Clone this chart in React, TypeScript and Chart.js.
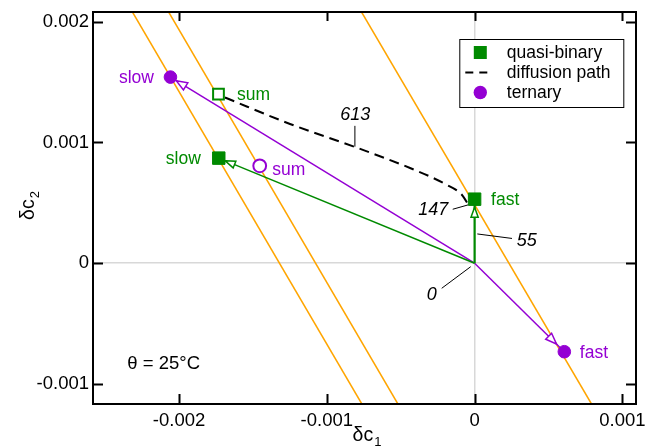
import React, { useEffect, useRef } from 'react';
import { Chart, registerables } from 'chart.js';

Chart.register(...registerables);

// ---------- data ----------
const xRange = [-0.002582, 0.001092];
const yRange = [-0.001166, 0.00208];
const xTicks = [-0.002, -0.001, 0, 0.001];
const xTickLabels = ['-0.002', '-0.001', '0', '0.001'];
const yTicks = [-0.001, 0, 0.001, 0.002];
const yTickLabels = ['-0.001', '0', '0.001', '0.002'];

// orange lines (endpoints at top and bottom of the frame)
const orangeTopX = [-0.002315, -0.00207, -0.000765];
const orangeTopY = [0.00208, 0.00208, 0.00208];
const orangeBotX = [-0.000763, -0.000519, 0.000791];
const orangeBotY = [-0.001166, -0.001166, -0.001166];

// origin of the arrows
const originX = 0;
const originY = 0;

// quasi-binary (green): slow, fast, and their sum
const qbNames = ['slow', 'fast'];
const qbX = [-0.001731, 0.0];
const qbY = [0.00087, 0.00053];
const qbSumX = [-0.001733];
const qbSumY = [0.0014];

// ternary (purple): slow, fast, and their sum
const tNames = ['slow', 'fast'];
const tX = [-0.002058, 0.000607];
const tY = [0.001541, -0.000733];
const tSumX = [-0.001454];
const tSumY = [0.000806];
const sumName = 'sum';

// diffusion path (dashed), from the sum point to the fast point
const pathX = [-0.001689, -0.001249, -0.000809, -0.000437, -0.0002, -0.0000853, -0.0000379];
const pathY = [0.001372, 0.001153, 0.000962, 0.000788, 0.000656, 0.000565, 0.000474];

// time labels along the path
const pathTimes = ['0', '55', '147', '613'];
const pathTimeX = [0, 0, -0.0000433, -0.00081];
const pathTimeY = [0, 0.000243, 0.000483, 0.000965];

const legendLabels = ['quasi-binary', 'diffusion path', 'ternary'];
const tempLabel = 'θ = 25°C';

// ---------- styles ----------
const GREEN = '#008a00';
const PURPLE = '#9400d3';
const ORANGE = '#ffa500';
const FONT = '"Liberation Sans", Arial, Helvetica, sans-serif';

const fmt = (v: number, vals: number[], labels: string[]) => {
  const i = vals.findIndex((t) => Math.abs(t - v) < 1e-9);
  return i >= 0 ? labels[i] : '';
};

const pts = (xs: number[], ys: number[]) => xs.map((x, i) => ({ x, y: ys[i] }));

export default function App() {
  const ref = useRef<HTMLCanvasElement>(null);

  useEffect(() => {
    const canvas = ref.current!;

    const datasets: any[] = [];
    // markers (top)
    datasets.push({
      data: pts(qbX, qbY), showLine: false, pointStyle: 'rect', pointRadius: 8.8,
      backgroundColor: GREEN, borderColor: GREEN, borderWidth: 1, order: 0,
    });
    datasets.push({
      data: pts(qbSumX, qbSumY), showLine: false, pointStyle: 'rect', pointRadius: 7.6,
      backgroundColor: '#fff', borderColor: GREEN, borderWidth: 2, order: 0,
    });
    datasets.push({
      data: pts(tX, tY), showLine: false, pointStyle: 'circle', pointRadius: 6.3,
      backgroundColor: PURPLE, borderColor: PURPLE, borderWidth: 1, order: 0,
    });
    datasets.push({
      data: pts(tSumX, tSumY), showLine: false, pointStyle: 'circle', pointRadius: 6.4,
      backgroundColor: '#fff', borderColor: PURPLE, borderWidth: 2, order: 0,
    });
    // dashed diffusion path
    datasets.push({
      data: pts(pathX, pathY), showLine: true, pointRadius: 0, borderColor: '#000',
      borderWidth: 2, borderDash: [10, 6], cubicInterpolationMode: 'monotone', fill: false, order: 1,
    });
    // arrow shafts
    qbX.forEach((x, i) => {
      datasets.push({
        data: [{ x: originX, y: originY }, { x, y: qbY[i] }], showLine: true, pointRadius: 0,
        borderColor: GREEN, borderWidth: i === 1 ? 2.2 : 1.5, order: 2,
      });
    });
    tX.forEach((x, i) => {
      datasets.push({
        data: [{ x: originX, y: originY }, { x, y: tY[i] }], showLine: true, pointRadius: 0,
        borderColor: PURPLE, borderWidth: 1.5, order: 2,
      });
    });
    // orange lines
    orangeTopX.forEach((x, i) => {
      datasets.push({
        data: [{ x, y: orangeTopY[i] }, { x: orangeBotX[i], y: orangeBotY[i] }], showLine: true,
        pointRadius: 0, borderColor: ORANGE, borderWidth: 1.5, order: 3,
      });
    });

    const arrowGaps = { qb: [7, 8], t: [6.8, 11] };

    const decor = {
      id: 'decor',
      afterDatasetsDraw(chart: any) {
        const { ctx, scales } = chart;
        const xs = scales.x, ys = scales.y;
        const ox = xs.getPixelForValue(originX), oy = ys.getPixelForValue(originY);
        const head = (ex: number, ey: number, gap: number, color: string, L: number, W: number) => {
          const dx = ex - ox, dy = ey - oy;
          const len = Math.hypot(dx, dy);
          const ux = dx / len, uy = dy / len;
          const tx = ex - ux * gap, ty = ey - uy * gap;
          const bx = tx - ux * L, by = ty - uy * L;
          ctx.save();
          ctx.beginPath();
          ctx.moveTo(tx, ty);
          ctx.lineTo(bx - uy * W, by + ux * W);
          ctx.lineTo(bx + uy * W, by - ux * W);
          ctx.closePath();
          ctx.fillStyle = '#fff';
          ctx.fill();
          ctx.lineWidth = 1.5;
          ctx.strokeStyle = color;
          ctx.lineJoin = 'miter';
          ctx.stroke();
          ctx.restore();
        };
        qbX.forEach((x, i) => head(xs.getPixelForValue(x), ys.getPixelForValue(qbY[i]), arrowGaps.qb[i], GREEN, 10, 3.6));
        tX.forEach((x, i) => head(xs.getPixelForValue(x), ys.getPixelForValue(tY[i]), arrowGaps.t[i], PURPLE, 11, 4.2));
      },
      afterDraw(chart: any) {
        const { ctx, chartArea: a, scales } = chart;
        const xs = scales.x, ys = scales.y;
        ctx.save();
        // frame
        ctx.strokeStyle = '#000';
        ctx.lineWidth = 2;
        ctx.strokeRect(a.left, a.top, a.right - a.left, a.bottom - a.top);
        // inward ticks on all sides
        ctx.beginPath();
        xTicks.forEach((v) => {
          const p = Math.round(xs.getPixelForValue(v)) + 0.5;
          ctx.moveTo(p, a.bottom); ctx.lineTo(p, a.bottom - 10);
          ctx.moveTo(p, a.top); ctx.lineTo(p, a.top + 9);
        });
        yTicks.forEach((v) => {
          const p = Math.round(ys.getPixelForValue(v)) + 0.5;
          ctx.moveTo(a.left, p); ctx.lineTo(a.left + 10, p);
          ctx.moveTo(a.right, p); ctx.lineTo(a.right - 10, p);
        });
        ctx.lineWidth = 2;
        ctx.stroke();

        // axis titles
        const title = (sub: string) => {
          ctx.font = `19.5px ${FONT}`;
          const w1 = ctx.measureText('δc').width;
          ctx.font = `13px ${FONT}`;
          const w2 = ctx.measureText(sub).width;
          return { w1, w2 };
        };
        ctx.fillStyle = '#000';
        ctx.textBaseline = 'alphabetic';
        ctx.textAlign = 'left';
        {
          const { w1, w2 } = title('1');
          const cx = (a.left + a.right) / 2 + 2;
          const sx = cx - (w1 + w2) / 2;
          ctx.font = `19.5px ${FONT}`;
          ctx.fillText('δc', sx, 441);
          ctx.font = `13px ${FONT}`;
          ctx.fillText('1', sx + w1 + 1, 446);
        }
        {
          const { w1, w2 } = title('2');
          ctx.save();
          ctx.translate(34, (a.top + a.bottom) / 2 - 2);
          ctx.rotate(-Math.PI / 2);
          const sx = -(w1 + w2) / 2;
          ctx.font = `19.5px ${FONT}`;
          ctx.fillText('δc', sx, 0);
          ctx.font = `13px ${FONT}`;
          ctx.fillText('2', sx + w1 + 1, 5);
          ctx.restore();
        }

        // point labels
        const lab = (text: string, x: number, y: number, dx: number, dy: number, align: CanvasTextAlign, color: string) => {
          ctx.font = `17.5px ${FONT}`;
          ctx.fillStyle = color;
          ctx.textAlign = align;
          ctx.textBaseline = 'alphabetic';
          ctx.fillText(text, xs.getPixelForValue(x) + dx, ys.getPixelForValue(y) + dy);
        };
        lab(qbNames[0], qbX[0], qbY[0], -18, 6, 'right', GREEN);
        lab(qbNames[1], qbX[1], qbY[1], 16.5, 5.5, 'left', GREEN);
        lab(sumName, qbSumX[0], qbSumY[0], 18.5, 6, 'left', GREEN);
        lab(tNames[0], tX[0], tY[0], -16.5, 6, 'right', PURPLE);
        lab(tNames[1], tX[1], tY[1], 15.5, 6.5, 'left', PURPLE);
        lab(sumName, tSumX[0], tSumY[0], 12.5, 9, 'left', PURPLE);

        // time labels with leaders
        const timeStyle = [
          { tx: -42.9, ty: 36.8, align: 'center', l: [-32.9, 25.1, -3.9, 3.5] },
          { tx: 42.1, ty: 12.1, align: 'left', l: [2.7, 0.1, 37.4, 4.6] },
          { tx: -19.9, ty: 10.1, align: 'right', l: [-15.5, 4.4, 0, 0] },
          { tx: 0.4, ty: -26.5, align: 'center', l: [0, -20.8, 0, 0] },
        ];
        pathTimes.forEach((t, i) => {
          const px = xs.getPixelForValue(pathTimeX[i]);
          const py = ys.getPixelForValue(pathTimeY[i]);
          const s = timeStyle[i];
          ctx.beginPath();
          ctx.moveTo(px + s.l[0], py + s.l[1]);
          ctx.lineTo(px + s.l[2], py + s.l[3]);
          ctx.strokeStyle = '#000';
          ctx.lineWidth = 1;
          ctx.stroke();
          ctx.font = `italic 18px ${FONT}`;
          ctx.fillStyle = '#000';
          ctx.textAlign = s.align as CanvasTextAlign;
          ctx.fillText(t, px + s.tx, py + s.ty);
        });

        // temperature label
        ctx.font = `18.5px ${FONT}`;
        ctx.fillStyle = '#000';
        ctx.textAlign = 'left';
        ctx.fillText(tempLabel, a.left + 34.3, a.bottom - 35);

        // legend
        const lx = a.left + 366.3, ly = a.top + 27;
        const lw = 164, lh = 68;
        ctx.fillStyle = '#fff';
        ctx.fillRect(lx, ly, lw, lh);
        ctx.strokeStyle = '#000';
        ctx.lineWidth = 1;
        ctx.strokeRect(lx + 0.5, ly + 0.5, lw, lh);
        const rows = [ly + 13.5, ly + 33.5, ly + 53.5];
        const ix = lx + 21;
        ctx.fillStyle = GREEN;
        ctx.fillRect(ix - 6.5, rows[0] - 6.5, 13, 13);
        ctx.beginPath();
        ctx.setLineDash([8, 6]);
        ctx.moveTo(ix - 15, rows[1]);
        ctx.lineTo(ix + 9, rows[1]);
        ctx.strokeStyle = '#000';
        ctx.lineWidth = 2;
        ctx.stroke();
        ctx.setLineDash([]);
        ctx.beginPath();
        ctx.arc(ix, rows[2], 6.7, 0, Math.PI * 2);
        ctx.fillStyle = PURPLE;
        ctx.fill();
        ctx.font = `17.5px ${FONT}`;
        ctx.fillStyle = '#000';
        ctx.textAlign = 'left';
        ctx.textBaseline = 'middle';
        legendLabels.forEach((t, i) => ctx.fillText(t, lx + 47.5, rows[i] + 0.5));
        ctx.restore();
      },
    };

    const chart = new Chart(canvas, {
      type: 'scatter',
      data: { datasets },
      plugins: [decor],
      options: {
        animation: false,
        responsive: false,
        devicePixelRatio: 1,
        layout: { padding: { left: 0, top: 12, right: 12, bottom: 0 } },
        plugins: { legend: { display: false }, tooltip: { enabled: false } },
        events: [],
        scales: {
          x: {
            type: 'linear',
            min: xRange[0],
            max: xRange[1],
            afterBuildTicks: (s: any) => { s.ticks = xTicks.map((v) => ({ value: v })); },
            afterFit: (s: any) => { s.height = 42; s.paddingLeft = 0; s.paddingRight = 0; },
            border: { display: false },
            grid: {
              drawTicks: false,
              lineWidth: 1.5,
              color: (c: any) => (c.tick && Math.abs(c.tick.value) < 1e-12 ? '#d8d8d8' : 'rgba(0,0,0,0)'),
            },
            ticks: {
              color: '#000',
              padding: 6,
              maxRotation: 0,
              autoSkip: false,
              font: { family: FONT, size: 18.5 },
              callback: (v: any) => fmt(Number(v), xTicks, xTickLabels),
            },
          },
          y: {
            type: 'linear',
            min: yRange[0],
            max: yRange[1],
            afterBuildTicks: (s: any) => { s.ticks = yTicks.map((v) => ({ value: v })); },
            afterFit: (s: any) => { s.width = 93; s.paddingTop = 0; s.paddingBottom = 0; },
            border: { display: false },
            grid: {
              drawTicks: false,
              lineWidth: 1.5,
              color: (c: any) => (c.tick && Math.abs(c.tick.value) < 1e-12 ? '#d8d8d8' : 'rgba(0,0,0,0)'),
            },
            ticks: {
              color: '#000',
              padding: 4,
              autoSkip: false,
              font: { family: FONT, size: 18.5 },
              callback: (v: any) => fmt(Number(v), yTicks, yTickLabels),
            },
          },
        },
      } as any,
    });
    return () => chart.destroy();
  }, []);

  return (
    <div style={{ position: 'absolute', left: 0, top: 0, width: 648, height: 446, background: '#fff' }}>
      <canvas ref={ref} width={648} height={446} style={{ display: 'block', width: 648, height: 446 }} />
    </div>
  );
}
